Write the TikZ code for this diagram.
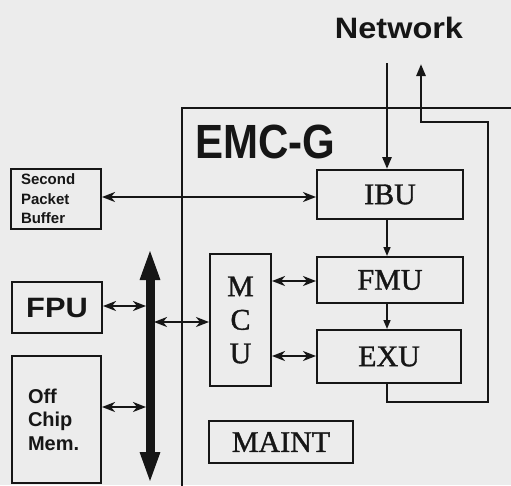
\documentclass[tikz,border=0pt]{standalone}
\usepackage{fontspec}
\usepackage{graphicx}
\setmainfont{Liberation Serif}[FakeBold=1.2]
\newfontfamily\hvf{Liberation Sans}
\usetikzlibrary{arrows.meta}
\definecolor{ink}{RGB}{22,22,22}
\definecolor{paper}{RGB}{236,236,236}
\begin{document}
\begin{tikzpicture}[x=1pt,y=-1pt,
  unit/.style={draw=ink, line width=2pt, inner sep=0pt, text=ink, font=\fontsize{30}{33.5}\selectfont},
  sbox/.style={draw=ink, line width=2pt, inner sep=0pt, text=ink},
  link/.style={draw=ink, line width=2.6pt, {Stealth[length=13pt,width=10pt,inset=4pt]}-{Stealth[length=13pt,width=10pt,inset=4pt]}},
  flow/.style={draw=ink, line width=1.6pt, -{Triangle[length=9pt,width=7pt]}},
  net/.style={draw=ink, line width=2.6pt, -{Triangle[length=12pt,width=9pt]}},
  bus/.style={draw=ink, line width=9pt, {Triangle[length=32pt,width=18pt]}-{Triangle[length=32pt,width=18pt]}}
]
\fill[paper] (0,0) rectangle (511,485);
\useasboundingbox (0,0) rectangle (511,485);

% EMC-G enclosure
\draw[ink, line width=2pt] (182,490) -- (182,108) -- (515,108);
\node[text=ink] (emc) at (265,142) {\hvf\bfseries\fontsize{48}{48}\selectfont\scalebox{0.875}[1]{EMC-G}};
\node[text=ink] (network) at (399,28) {\hvf\bfseries\fontsize{29.5}{30}\selectfont\scalebox{1.1}[1]{Network}};

% units
\node[unit, minimum width=146pt, minimum height=49pt] (ibu) at (390,194.5) {IBU};
\node[unit, minimum width=146pt, minimum height=46pt] (fmu) at (390,280) {FMU};
\node[unit, minimum width=144pt, minimum height=53pt] (exu) at (389,356.5) {EXU};
\node[unit, minimum width=61pt, minimum height=132pt, align=center] (mcu) at (240.5,320) {M\\C\\U};
\node[unit, minimum width=144pt, minimum height=42pt] (maint) at (281,442) {MAINT};

% outside boxes
\node[sbox, minimum width=90pt, minimum height=60pt, text width=70pt, align=left,
      font=\hvf\bfseries\fontsize{15}{19.5}\selectfont] (spb) at (56,199) {Second\\Packet\\Buffer};
\node[sbox, minimum width=90pt, minimum height=51pt,
      font=\hvf\bfseries\fontsize{28}{30}\selectfont] (fpu) at (57,307.5) {\scalebox{1.1}[1]{FPU}};
\node[sbox, minimum width=89pt, minimum height=127pt, text width=57pt, align=left,
      font=\hvf\bfseries\fontsize{20}{23.5}\selectfont] (ocm) at (56.5,419.5) {Off\\Chip\\Mem.};

% coordinates
\coordinate (netin) at (387,63);
\coordinate (netout) at (421,64);
\coordinate (loopa) at (387,402);
\coordinate (loopb) at (488,402);
\coordinate (loopc) at (488,122);
\coordinate (loopd) at (421,122);
\coordinate (bustop) at (150,248);
\coordinate (busbot) at (150,484);
\coordinate (busL) at (146,0);
\coordinate (busR) at (154,0);
\coordinate (yspb) at (0,197);
\coordinate (yfpu) at (0,306);
\coordinate (yocm) at (0,407);
\coordinate (ymcu) at (0,322);
\coordinate (yfmu) at (0,281);
\coordinate (yexu) at (0,356);

% bus
\draw[bus] (bustop) -- (busbot);

% network
\draw[net] (netin) -- (netin |- ibu.north);
\draw[net] (netin |- exu.south) -- (loopa) -- (loopb) -- (loopc) -- (loopd) -- (netout);

% internal flow
\draw[flow] (netin |- ibu.south) -- (netin |- fmu.north);
\draw[flow] (netin |- fmu.south) -- (netin |- exu.north);

% links
\draw[link] (spb.east |- yspb) -- (ibu.west |- yspb);
\draw[link] (fpu.east |- yfpu) -- (busL |- yfpu);
\draw[link] (ocm.east |- yocm) -- (busL |- yocm);
\draw[link] (busR |- ymcu) -- (mcu.west |- ymcu);
\draw[link] (mcu.east |- yfmu) -- (fmu.west |- yfmu);
\draw[link] (mcu.east |- yexu) -- (exu.west |- yexu);
\end{tikzpicture}
\end{document}
